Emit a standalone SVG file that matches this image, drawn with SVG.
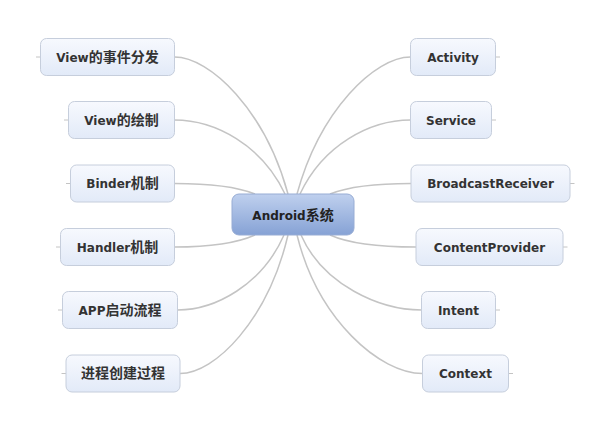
<svg xmlns="http://www.w3.org/2000/svg" width="610" height="430" viewBox="0 0 610 430">
<style>
.n{fill:url(#gn);stroke:#c6cedc;stroke-width:1}
.t{font-family:"DejaVu Sans","Noto Sans CJK SC",sans-serif;font-weight:bold;font-size:12px;fill:#333;text-anchor:middle}
.c{font-family:"Noto Sans CJK SC",sans-serif;font-size:14px}
.e{fill:none;stroke:#c4c4c4;stroke-width:1.5}
.s{fill:none;stroke:#c4c4c4;stroke-width:1}
</style>
<defs>
<linearGradient id="gn" x1="0" y1="0" x2="0" y2="1">
<stop offset="0" stop-color="#f7f9fe"/>
<stop offset="1" stop-color="#e2eaf8"/>
</linearGradient>
<linearGradient id="gc" x1="0" y1="0" x2="0" y2="1">
<stop offset="0" stop-color="#bfd0ee"/>
<stop offset="1" stop-color="#86a2d5"/>
</linearGradient>
</defs>
<rect width="610" height="430" fill="#fff"/>
<g id="connectors">
<path class="e" d="M174.5,57 C210,57 265,110 288,194"/>
<path class="e" d="M174.5,120 C215,120 262,145 285,194"/>
<path class="e" d="M174.5,183.5 C210,183.5 235,186 255,194"/>
<path class="e" d="M174.5,247 C210,247 235,244 255,235"/>
<path class="e" d="M177.5,310 C215,310 262,285 284,235"/>
<path class="e" d="M180,373.5 C215,373.5 268,320 288,235"/>
<path class="e" d="M410.5,57 C375,57 320,110 297,194"/>
<path class="e" d="M410.5,120 C370,120 323,145 300,194"/>
<path class="e" d="M411,183.5 C375,183.5 350,186 330,194"/>
<path class="e" d="M416,247 C380,247 350,244 330,235"/>
<path class="e" d="M421.5,310 C380,310 323,285 301,235"/>
<path class="e" d="M422.5,373.5 C380,373.5 318,320 297,235"/>
</g>
<g id="center">
<rect x="232" y="194" width="122" height="41" rx="7" fill="url(#gc)" stroke="#97acd4"/>
<text class="t" x="293" y="219.5" style="fill:#222">Android<tspan class="c">系统</tspan></text>
</g>
<g id="n-view-event">
<line class="s" x1="36" y1="57" x2="40.5" y2="57"/>
<rect class="n" x="40.5" y="38.5" width="134" height="37" rx="6"/>
<text class="t" x="107.5" y="61.5">View<tspan class="c">的事件分发</tspan></text>
</g>
<g id="n-view-draw">
<line class="s" x1="64" y1="120" x2="68.5" y2="120"/>
<rect class="n" x="68.5" y="101.5" width="106" height="37" rx="6"/>
<text class="t" x="121.5" y="124.5">View<tspan class="c">的绘制</tspan></text>
</g>
<g id="n-binder">
<line class="s" x1="66" y1="183.5" x2="70.5" y2="183.5"/>
<rect class="n" x="70.5" y="165" width="104" height="37" rx="6"/>
<text class="t" x="122.5" y="188">Binder<tspan class="c">机制</tspan></text>
</g>
<g id="n-handler">
<line class="s" x1="56" y1="247" x2="60.5" y2="247"/>
<rect class="n" x="60.5" y="228.5" width="114" height="37" rx="6"/>
<text class="t" x="117.5" y="251.5">Handler<tspan class="c">机制</tspan></text>
</g>
<g id="n-app">
<line class="s" x1="58" y1="310" x2="62.5" y2="310"/>
<rect class="n" x="62.5" y="291.5" width="115" height="37" rx="6"/>
<text class="t" x="120" y="314.5">APP<tspan class="c">启动流程</tspan></text>
</g>
<g id="n-process">
<line class="s" x1="61.5" y1="373.5" x2="66" y2="373.5"/>
<rect class="n" x="66" y="355" width="114" height="37" rx="6"/>
<text class="t" x="123" y="378"><tspan class="c">进程创建过程</tspan></text>
</g>
<g id="n-activity">
<line class="s" x1="495.5" y1="57" x2="500" y2="57"/>
<rect class="n" x="410.5" y="38.5" width="85" height="37" rx="6"/>
<text class="t" x="453" y="61.5">Activity</text>
</g>
<g id="n-service">
<line class="s" x1="491.5" y1="120" x2="496" y2="120"/>
<rect class="n" x="410.5" y="101.5" width="81" height="37" rx="6"/>
<text class="t" x="451" y="124.5">Service</text>
</g>
<g id="n-broadcast">
<line class="s" x1="570" y1="183.5" x2="574.5" y2="183.5"/>
<rect class="n" x="411" y="165" width="159" height="37" rx="6"/>
<text class="t" x="490.5" y="188">BroadcastReceiver</text>
</g>
<g id="n-content">
<line class="s" x1="563" y1="247" x2="567.5" y2="247"/>
<rect class="n" x="416" y="228.5" width="147" height="37" rx="6"/>
<text class="t" x="489.5" y="251.5">ContentProvider</text>
</g>
<g id="n-intent">
<line class="s" x1="495.5" y1="310" x2="500" y2="310"/>
<rect class="n" x="421.5" y="291.5" width="74" height="37" rx="6"/>
<text class="t" x="458.5" y="314.5">Intent</text>
</g>
<g id="n-context">
<line class="s" x1="508.5" y1="373.5" x2="513" y2="373.5"/>
<rect class="n" x="422.5" y="355" width="86" height="37" rx="6"/>
<text class="t" x="465.5" y="378">Context</text>
</g>
</svg>
